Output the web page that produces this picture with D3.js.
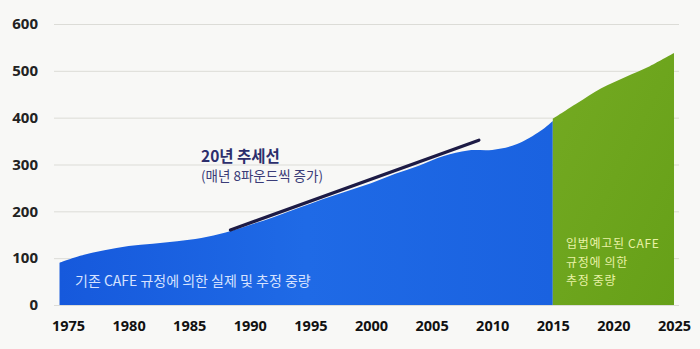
<!DOCTYPE html>
<html>
<head>
<meta charset="utf-8">
<script src="https://cdn.jsdelivr.net/npm/d3@7/dist/d3.min.js"></script>
<style>
  body { margin: 0; background: #f8f8f6; }
  svg { display: block; font-family: "Noto Sans CJK KR", "Noto Sans", sans-serif; }
</style>
</head>
<body>
<div id="chart"></div>
<script>
// Chart values
var blueYears = [1974.3, 1976, 1978, 1980, 1982, 1984, 1986, 1988, 1990, 1992, 1994, 1996,
                 1998, 2000, 2002, 2004, 2006, 2008, 2010, 2012, 2014, 2015];
var blueValues = [90, 105, 117, 126, 131, 136, 143, 155, 171, 188, 207, 226,
                  243, 260, 280, 298, 318, 330, 331, 343, 372, 393];
var greenYears = [2015, 2017, 2019, 2021, 2023, 2025];
var greenValues = [398, 431, 463, 487, 510, 538];
var trendYears = [1988.4, 2008.9];
var trendValues = [160, 352];
var xTicks = [1975, 1980, 1985, 1990, 1995, 2000, 2005, 2010, 2015, 2020, 2025];
var yTicks = [0, 100, 200, 300, 400, 500, 600];

var width = 700, height = 349;

var x = d3.scaleLinear().domain([1975, 2025]).range([68, 674]);
var y = d3.scaleLinear().domain([0, 600]).range([305, 24]);

var svg = d3.select("#chart").append("svg")
    .attr("width", width)
    .attr("height", height);

svg.append("rect")
    .attr("width", width)
    .attr("height", height)
    .attr("fill", "#f8f8f6");

// gradients for the two areas
var defs = svg.append("defs");
var gBlue = defs.append("linearGradient").attr("id", "gBlue")
    .attr("x1", 0).attr("y1", 0).attr("x2", 1).attr("y2", 0);
gBlue.append("stop").attr("offset", 0).attr("stop-color", "#1659dc");
gBlue.append("stop").attr("offset", 0.5).attr("stop-color", "#1f6ae6");
gBlue.append("stop").attr("offset", 1).attr("stop-color", "#1a62e0");
var gGreen = defs.append("linearGradient").attr("id", "gGreen")
    .attr("x1", 0).attr("y1", 0).attr("x2", 1).attr("y2", 1);
gGreen.append("stop").attr("offset", 0).attr("stop-color", "#74aa22");
gGreen.append("stop").attr("offset", 1).attr("stop-color", "#66a018");

// gridlines + y labels
var yAxis = d3.axisLeft(y).tickValues(yTicks).tickSize(-625).tickPadding(16);
var gy = svg.append("g")
    .attr("transform", "translate(54,0)")
    .call(yAxis);
gy.select(".domain").remove();
gy.selectAll(".tick line").attr("stroke", "#dcdcd7").attr("stroke-width", 1);
gy.selectAll(".tick text")
    .attr("fill", "#222")
    .attr("font-size", 15)
    .attr("font-weight", "bold")
    .attr("font-family", "'Open Sans', 'Noto Sans', sans-serif");

var xAxis = d3.axisBottom(x).tickValues(xTicks).tickFormat(d3.format("d")).tickSize(0).tickPadding(0);
var gx = svg.append("g")
    .attr("transform", "translate(0,321)")
    .call(xAxis);
gx.select(".domain").remove();
gx.selectAll(".tick text")
    .attr("fill", "#111")
    .attr("font-size", 14.5)
    .attr("font-weight", "bold")
    .attr("font-family", "'Open Sans', 'Noto Sans', sans-serif");

// areas
var area = d3.area()
    .x(function(d) { return x(d[0]); })
    .y0(y(0))
    .y1(function(d) { return y(d[1]); })
    .curve(d3.curveCatmullRom);

svg.append("path")
    .datum(d3.zip(blueYears, blueValues))
    .attr("d", area)
    .attr("fill", "url(#gBlue)");

svg.append("path")
    .datum(d3.zip(greenYears, greenValues))
    .attr("d", area)
    .attr("fill", "url(#gGreen)");

// trend line
svg.append("path")
    .datum(d3.zip(trendYears, trendValues))
    .attr("d", d3.line()
        .x(function(d) { return x(d[0]); })
        .y(function(d) { return y(d[1]); }))
    .attr("stroke", "#1d1b45")
    .attr("stroke-width", 3.2)
    .attr("stroke-linecap", "round")
    .attr("fill", "none");

// labels
svg.append("text")
    .attr("x", 201).attr("y", 162)
    .attr("font-size", 15.5).attr("font-weight", "bold")
    .attr("fill", "#2c2e6c")
    .text("20년 추세선");
svg.append("text")
    .attr("x", 201).attr("y", 181)
    .attr("font-size", 13.5)
    .attr("fill", "#3a3c78")
    .text("(매년 8파운드씩 증가)");

svg.append("text")
    .attr("x", 75).attr("y", 286)
    .attr("font-size", 14)
    .attr("fill", "#d6e2ff")
    .text("기존 CAFE 규정에 의한 실제 및 추정 중량");

var greenLines = ["입법예고된 CAFE", "규정에 의한", "추정 중량"];
svg.append("g").selectAll("text")
    .data(greenLines)
  .enter().append("text")
    .attr("x", 566)
    .attr("y", function(d, i) { return 248 + i * 18.5; })
    .attr("font-size", 12)
    .attr("letter-spacing", 0.7)
    .attr("fill", "#e9f2a6")
    .text(function(d) { return d; });
</script>
</body>
</html>
